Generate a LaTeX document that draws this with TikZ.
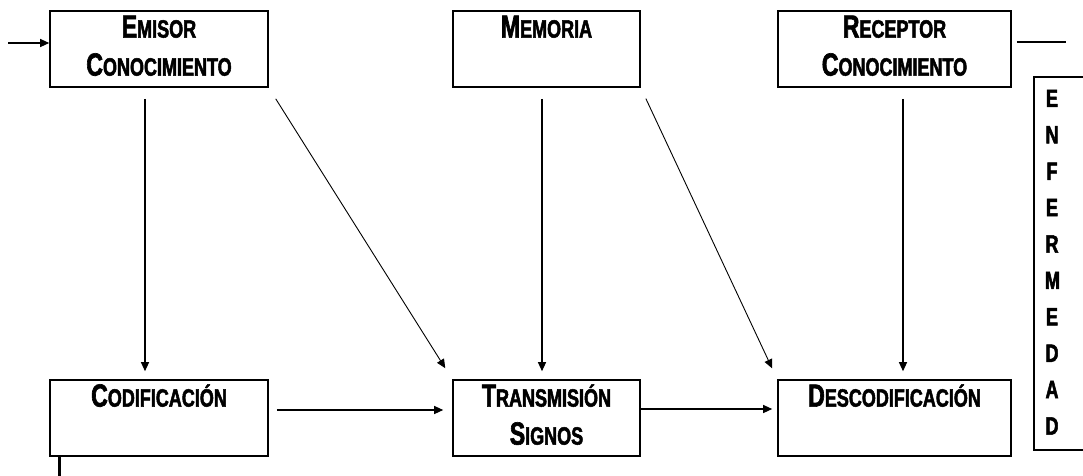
\documentclass[tikz,border=0pt]{standalone}
\usepackage{fontspec}
\usepackage{tikz}
\usetikzlibrary{arrows.meta,positioning}
\newfontfamily\rotulo[FakeStretch=0.72, BoldFeatures={FakeBold=2}]{Liberation Sans}
% versalita: inicial grande y resto en mayuscula menor
\newcommand{\versal}[2]{{\fontsize{32}{38}\selectfont #1}#2\strut}

\tikzset{
  caja/.style={draw, line width=1.6pt, inner sep=0pt, minimum height=76pt, align=center,
    font=\rotulo\bfseries\fontsize{25}{38}\selectfont},
  letras/.style={inner xsep=0pt, inner ysep=4.5pt, text width=14pt, align=center,
    font=\rotulo\bfseries\fontsize{25}{36.4}\selectfont,
    execute at begin node=\strut, execute at end node=\strut},
  flecha/.style={-{Triangle[length=9pt,width=8pt]}, line width=1.2pt},
}

\begin{document}
\begin{tikzpicture}[x=1pt,y=-1pt]
\useasboundingbox (0,0) rectangle (1083,475);
% fila de arriba
\node[caja, minimum width=218pt] (emi) at (159,49) {\versal{E}{MISOR}\\\versal{C}{ONOCIMIENTO}};
\node[caja, minimum width=187pt] (mem) at (546.5,49) {\versal{M}{EMORIA}\\\strut};
\node[caja, minimum width=233pt] (rec) at (894.5,49) {\versal{R}{ECEPTOR}\\\versal{C}{ONOCIMIENTO}};
% fila de abajo
\node[caja, minimum width=218pt] (cod) at (159,418) {\versal{C}{ODIFICACIÓN}\\\strut};
\node[caja, minimum width=187pt] (tra) at (546.5,418) {\versal{T}{RANSMISIÓN}\\\versal{S}{IGNOS}};
\node[caja, minimum width=233pt] (des) at (894.5,418) {\versal{D}{ESCODIFICACIÓN}\\\strut};
% columna de la derecha
\node[letras] (enf) at (1052,263.5) {E\\N\\F\\E\\R\\M\\E\\D\\A\\D};
\draw[line width=1.6pt] ([xshift=40pt]enf.north east) -| ([xshift=-11pt]enf.south west) -- ([xshift=40pt]enf.south east);

% conexiones
\coordinate (entrada) at (8,43);
\draw[flecha] (entrada) -- (entrada -| emi.west);
\draw[flecha, shorten <=11pt, shorten >=8pt] ([xshift=-14pt]emi.south) -- ([xshift=-14pt]cod.north);
\draw[flecha, shorten <=11pt, shorten >=8pt] ([xshift=-4.5pt]mem.south) -- ([xshift=-4.5pt]tra.north);
\draw[flecha, shorten <=11pt, shorten >=8pt] ([xshift=8.5pt]rec.south) -- ([xshift=8.5pt]des.north);
\draw[flecha, line width=0.9pt, shorten <=13pt, shorten >=13pt] (emi.south east) -- (tra.north west);
\draw[flecha, line width=0.9pt, shorten <=12pt, shorten >=12pt] (mem.south east) -- (des.north west);
\draw[flecha, shorten <=8pt, shorten >=9pt] ([yshift=8pt]cod.east) -- ([yshift=8pt]tra.west);
\draw[flecha, shorten >=5pt] ([yshift=9pt]tra.east) -- ([yshift=9pt]des.west);
\coordinate (salida) at (1066,42);
\draw[line width=1.2pt, shorten <=5pt] (rec.east |- salida) -- (salida);
\coordinate (retorno) at (59,480);
\draw[line width=3pt] (cod.south -| retorno) -- (retorno);
\end{tikzpicture}
\end{document}
